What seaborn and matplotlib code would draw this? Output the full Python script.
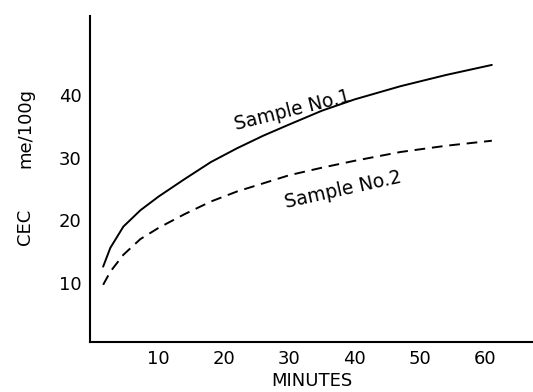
import matplotlib
matplotlib.use('Agg')
import matplotlib.pyplot as plt
import numpy as np
import pandas as pd
import seaborn as sns

# values
minutes = [1.5, 2.6, 4.6, 7.2, 10, 14, 18, 22, 26, 30, 35, 40, 47, 54, 61]
sample1 = [12.6, 15.6, 19.0, 21.6, 23.8, 26.6, 29.3, 31.5, 33.5, 35.3, 37.5, 39.3, 41.4, 43.2, 44.8]
sample2 = [9.7, 11.8, 14.5, 17.0, 18.8, 21.0, 23.0, 24.6, 25.9, 27.2, 28.4, 29.5, 30.9, 31.9, 32.7]
x_ticks = [10, 20, 30, 40, 50, 60]
y_ticks = [10, 20, 30, 40]

df = pd.DataFrame({
    'minutes': minutes * 2,
    'cec': sample1 + sample2,
    'sample': ['Sample No.1'] * len(minutes) + ['Sample No.2'] * len(minutes),
})

sns.set_style('white')
plt.rcParams['font.family'] = ['DejaVu Sans']
plt.rcParams['text.color'] = 'black'

fig = plt.figure(figsize=(5.33, 3.92), dpi=100)
ax = fig.add_axes([0.169, 0.128, 0.831, 0.831])

sns.lineplot(data=df, x='minutes', y='cec', style='sample',
             dashes={'Sample No.1': '', 'Sample No.2': (5.5, 3.5)},
             color='black', linewidth=1.4, legend=False, ax=ax)

ax.set_xlim(-0.5, 67.3)
ax.set_ylim(0.6, 52.6)
ax.set_xticks(x_ticks)
ax.set_yticks(y_ticks)
ax.tick_params(length=0, labelsize=13, colors='black', pad=6)
ax.set_xlabel('MINUTES', fontsize=13, labelpad=3, color='black')
ax.set_ylabel('')
for s in ['top', 'right']:
    ax.spines[s].set_visible(False)
for s in ['left', 'bottom']:
    ax.spines[s].set_color('black')
    ax.spines[s].set_linewidth(1.5)

H = 392
ax.text(292, H - 110, 'Sample No.1', transform=None, fontsize=13.5,
        rotation=14, ha='center', va='center')
ax.text(343, H - 190, 'Sample No.2', transform=None, fontsize=13.5,
        rotation=12.5, ha='center', va='center')

fig.text(25 / 533, 1 - 227 / H, 'CEC', rotation=90, fontsize=13,
         ha='center', va='center')
fig.text(25 / 533, 1 - 128 / H, 'me/100g', rotation=90, fontsize=13,
         ha='center', va='center')

fig.savefig('out.png', dpi=100)
